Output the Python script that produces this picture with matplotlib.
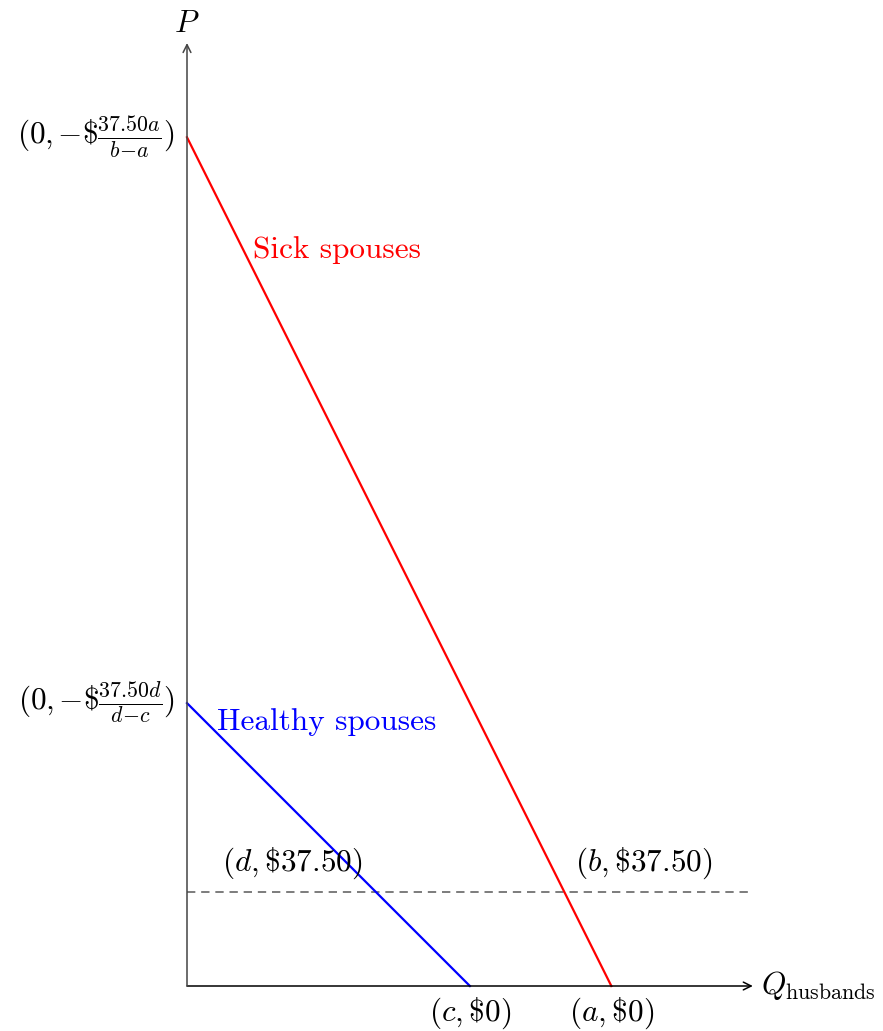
import matplotlib.pyplot as plt

plt.rcParams["mathtext.fontset"] = "cm"
plt.rcParams["font.family"] = "serif"
plt.rcParams["font.serif"] = ["cmr10", "DejaVu Serif"]
plt.rcParams["axes.unicode_minus"] = False

# demand curves (quantity, price) in drawing units
sick_q = [0, 4.5]
sick_p = [9, 0]
healthy_q = [0, 3]
healthy_p = [3, 0]
price_line = 1.0
x_max = 6.0
y_max = 10.0

# pixel scale of the reference: origin at (187, 986), 94.3 px per unit
W, H = 883, 1031
ox, oy, unit = 187, 986, 94.3

fig = plt.figure(figsize=(W / 100, H / 100), dpi=100)
ax = fig.add_axes([0, 0, 1, 1])
ax.set_xlim(-ox / unit, (W - ox) / unit)
ax.set_ylim(-(H - oy) / unit, oy / unit)
ax.axis("off")

# axes with open arrow heads
ax.annotate("", xy=(x_max, 0), xytext=(0, 0),
            arrowprops=dict(arrowstyle="->", color="black", lw=1.1,
                            shrinkA=0, shrinkB=0, mutation_scale=14))
ax.annotate("", xy=(0, y_max), xytext=(0, 0),
            arrowprops=dict(arrowstyle="->", color="#444444", lw=1.1,
                            shrinkA=0, shrinkB=0, mutation_scale=14))

ax.plot([0, x_max], [price_line, price_line], color="#666666", lw=1.2,
        ls=(0, (5, 3.5)))
ax.plot(sick_q, sick_p, color="red", lw=1.6)
ax.plot(healthy_q, healthy_p, color="blue", lw=1.6)

fs = 22.5
ax.text(0, y_max + 0.05, r"$P$", ha="center", va="bottom", fontsize=fs)
ax.text(x_max + 0.09, 0, r"$Q_{\mathrm{husbands}}$", ha="left", va="center",
        fontsize=fs)

ax.text(-0.13, sick_p[0], r"$(0{,}\,{-}\$\frac{37.50a}{b{-}a})$", ha="right",
        va="center", fontsize=fs)
ax.text(-0.13, healthy_p[0], r"$(0{,}\,{-}\$\frac{37.50d}{d{-}c})$",
        ha="right", va="center", fontsize=fs)

ax.text(0.7, 7.8, "Sick spouses", color="red", ha="left", va="center",
        fontsize=fs)
ax.text(0.32, 2.8, "Healthy spouses", color="blue", ha="left", va="center",
        fontsize=fs)

ax.text(1.12, 1.3, r"$(d,\$37.50)$", ha="center", va="center", fontsize=fs)
ax.text(4.84, 1.3, r"$(b,\$37.50)$", ha="center", va="center", fontsize=fs)
ax.text(healthy_q[1], -0.29, r"$(c,\$0)$", ha="center", va="center",
        fontsize=fs)
ax.text(sick_q[1], -0.29, r"$(a,\$0)$", ha="center", va="center",
        fontsize=fs)

fig.savefig("out.png", dpi=100)
